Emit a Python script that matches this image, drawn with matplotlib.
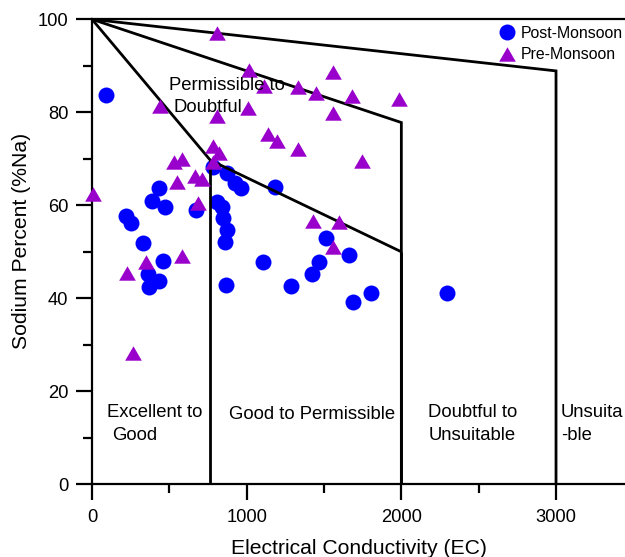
import matplotlib
matplotlib.use("Agg")
import matplotlib.pyplot as plt
from matplotlib.path import Path
from matplotlib.ticker import MultipleLocator
import numpy as np

plt.rcParams['font.family'] = ['Liberation Sans', 'DejaVu Sans']

# ---- data ----
post_ec = [91, 222, 252, 332, 433, 386, 474, 461, 364, 369, 433, 672, 780, 871, 925, 963,
           1183, 806, 839, 849, 871, 860, 866, 1108, 1513, 1664, 1468, 1424, 1287, 1689,
           1804, 2293]
post_na = [83.7, 57.8, 56.1, 51.8, 63.7, 61.0, 59.7, 48.1, 45.2, 42.5, 43.7, 59.0, 68.2,
           66.9, 64.7, 63.7, 64.0, 60.8, 59.7, 57.2, 54.7, 52.2, 42.9, 47.7, 52.9, 49.3,
           47.7, 45.2, 42.7, 39.3, 41.1, 41.1]

pre_ec = [806, 1017, 1560, 440, 1112, 1332, 1448, 1679, 1987, 1009, 806, 1560, 1140, 1194,
          1330, 782, 823, 784, 1746, 528, 583, 5, 548, 666, 709, 685, 349, 228, 584, 263,
          1429, 1597, 1560]
pre_na = [97.0, 89.1, 88.7, 81.4, 85.6, 85.4, 84.2, 83.5, 82.9, 80.9, 79.1, 79.8, 75.3,
          73.9, 72.2, 72.7, 71.3, 69.3, 69.6, 69.3, 69.9, 62.5, 65.1, 66.3, 65.6, 60.6,
          47.9, 45.5, 49.1, 28.3, 56.7, 56.5, 51.1]

# Wilcox boundary lines
line_a_x = [0, 765, 2000]
line_a_y = [100, 69.7, 50.0]
line_b_x = [0, 2000, 2000]
line_b_y = [100, 77.8, 0]
line_c_x = [0, 3000, 3000]
line_c_y = [100, 88.9, 0]
vert_x = [765, 765]
vert_y = [69.7, 0]
line_a2_x = [2000, 2000]
line_a2_y = [50.0, 0]

region_texts = [
    ("Permissible to", 498, 84.7),
    ("Doubtful", 530, 80.1),
    ("Excellent to", 97, 14.5),
    ("Good", 129, 9.5),
    ("Good to Permissible", 886, 14.1),
    ("Doubtful to", 2174, 14.5),
    ("Unsuitable", 2174, 9.5),
    ("Unsuita", 3032, 14.5),
    ("-ble", 3032, 9.5),
]

blue = '#0000ff'
purple = '#9900cc'

fig = plt.figure(figsize=(6.25, 5.57), dpi=100)
ax = fig.add_axes([92/625, (557-484.3)/557, 533/625, (484.3-19.3)/557])

tri = Path([(-1, -0.866), (1, -0.866), (0, 0.866), (-1, -0.866)],
           [Path.MOVETO, Path.LINETO, Path.LINETO, Path.CLOSEPOLY])

ax.plot(post_ec, post_na, linestyle='none', marker='o', ms=11.5, mfc=blue, mec='none',
        zorder=2, clip_on=False, label='Post-Monsoon')
for xs, ys in [(line_a_x, line_a_y), (line_b_x, line_b_y), (line_c_x, line_c_y),
               (vert_x, vert_y), (line_a2_x, line_a2_y)]:
    ax.plot(xs, ys, color='black', lw=2.0, zorder=3, solid_capstyle='butt',
            solid_joinstyle='miter')
ax.plot(pre_ec, pre_na, linestyle='none', marker=tri, ms=12, mfc=purple, mec='none',
        zorder=4, clip_on=False, label='Pre-Monsoon')

for txt, x, y in region_texts:
    ax.text(x, y, txt, fontsize=13.3, ha='left', va='baseline', zorder=5)

ax.set_xlim(0, 3446)
ax.set_ylim(0, 100)
ax.xaxis.set_major_locator(MultipleLocator(1000))
ax.xaxis.set_minor_locator(MultipleLocator(500))
ax.yaxis.set_major_locator(MultipleLocator(20))
ax.yaxis.set_minor_locator(MultipleLocator(10))
ax.spines['right'].set_visible(False)
for s in ['left', 'bottom', 'top']:
    ax.spines[s].set_linewidth(1.6)
ax.tick_params(which='major', length=11.5, width=1.6, labelsize=13.2, direction='out')
ax.tick_params(which='minor', length=6.5, width=1.6, direction='out')
ax.tick_params(axis='x', which='both', pad=6.5, top=False)
ax.tick_params(axis='y', which='both', pad=5.5, right=False)

fig.text(359.2/625, (557-554.3)/557, "Electrical Conductivity (EC)", fontsize=15.2,
         ha='center', va='baseline')
fig.text(21.7/625, 1-240.7/557, "Sodium Percent (%Na)", fontsize=15.2, rotation=90,
         ha='center', va='center')

fig.legend(loc='upper left', bbox_to_anchor=(499/625, 1-25.5/557), borderpad=0,
           borderaxespad=0, handlelength=1.0, handletextpad=0.4, labelspacing=0.42,
           frameon=False, fontsize=11.4, numpoints=1)

fig.savefig('out.png', dpi=100)
